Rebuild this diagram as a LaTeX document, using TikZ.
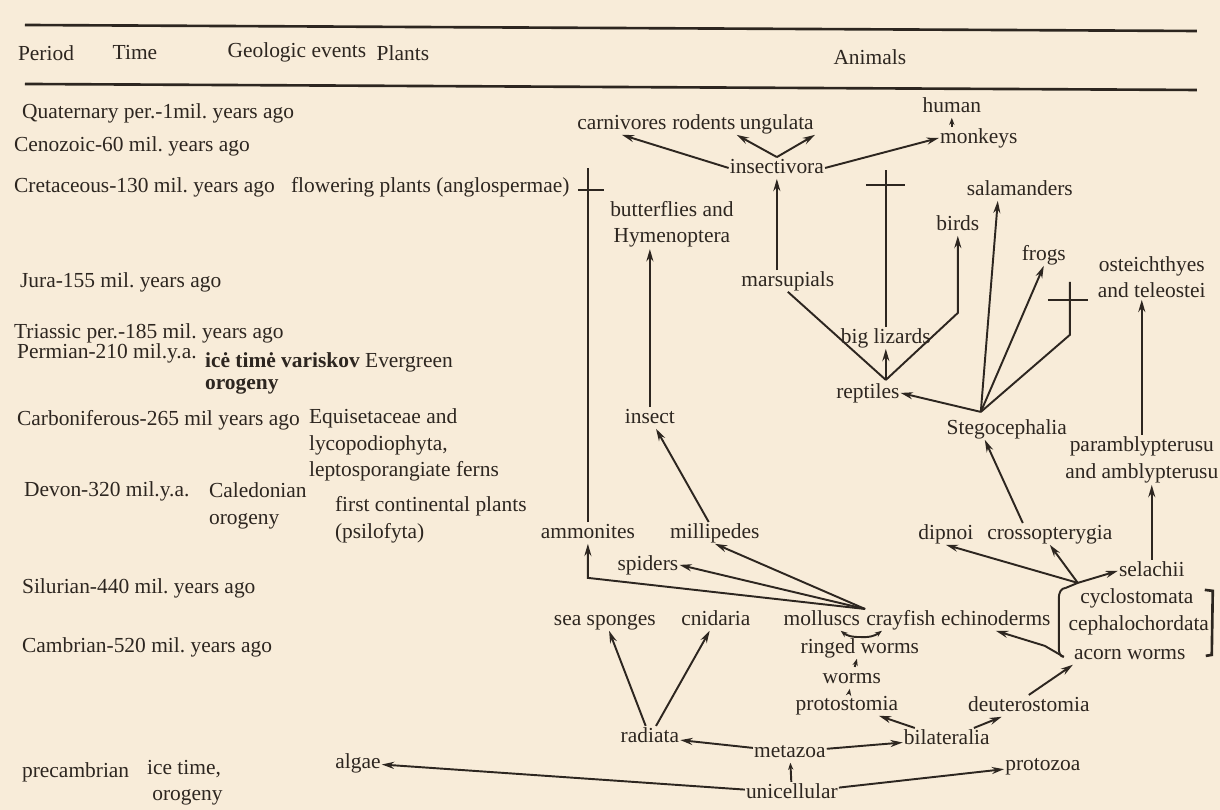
\documentclass[tikz,border=0pt]{standalone}
\usepackage{fontspec}
\setmainfont{Liberation Serif}
\usetikzlibrary{arrows.meta,calc}
\definecolor{paper}{RGB}{248,236,217}
\definecolor{ink}{RGB}{45,38,32}
\frenchspacing
\begin{document}
\begin{tikzpicture}[
    x=0.02cm, y=-0.02cm,
    every node/.style={inner sep=1pt, text=ink, font=\fontsize{12.2}{15}\selectfont, align=center},
    era/.style={anchor=west, align=left},
    taxon/.style={text height=8.5pt, text depth=2.5pt, inner sep=0.5pt},
    rule/.style={draw=ink, line width=1.5pt},
    link/.style={draw=ink, line width=1.1pt},
    arrow/.style={link, -{Stealth[length=7pt,width=4pt]}},
    tiny arrow/.style={link, -{Stealth[length=4pt,width=3pt]}}
]

\fill[paper] (0,0) rectangle (1220,810);

\draw[rule] (25,25) -- (1197,31);
\draw[rule] (25,84) -- (1197,90);

\node (period) at (46,53) {Period};
\node (time) at (135,53) {Time};
\node (geo) at (297,52) {Geologic events};
\node (plants) at (403,53) {Plants};
\node (animals) at (870,57) {Animals};

\node (quat) [era] at (20,113) {Quaternary per.-1mil. years ago};
\node (ceno) [era] at (12,146) {Cenozoic-60 mil. years ago};
\node (creta) [era] at (12,187) {Cretaceous-130 mil. years ago};
\node (jura) [era] at (18,282) {Jura-155 mil. years ago};
\node (trias) [era] at (12,333) {Triassic per.-185 mil. years ago};
\node (perm) [era] at (15,353) {Permian-210 mil.y.a.};
\node (carb) [era] at (15,420) {Carboniferous-265 mil years ago};
\node (devon) [era] at (22,491) {Devon-320 mil.y.a.};
\node (silur) [era] at (20,588) {Silurian-440 mil. years ago};
\node (cambr) [era] at (20,648) {Cambrian-520 mil. years ago};
\node (precam) [era] at (20,772) {precambrian};

\node (icetime) [era] at (203,362) {\textbf{icė timė variskov} Evergreen};
\node (oro1) [era] at (203,386) {\textbf{orogeny}};
\node (caled) [era] at (207,506) {Caledonian\\orogeny};
\node (icepre) [era] at (145,783) {ice time,\\\hspace*{3pt}orogeny};

\node (flower) [era] at (289,187) {flowering plants (anglospermae)};
\node (equis) [era] at (307,445) {Equisetaceae and\\lycopodiophyta,\\leptosporangiate ferns};
\node (firstpl) [era] at (333,520) {first continental plants\\(psilofyta)};

\node (carniv) [taxon] at (622,124) {carnivores};
\node (rodents) [taxon] at (704,124) {rodents};
\node (ungul) [taxon] at (777,124) {ungulata};
\node (human) [taxon] at (952,107) {human};
\node (monkeys) [taxon] at (979,138) {monkeys};
\node (insectiv) [taxon] at (777,168) {insectivora};
\node (salam) [taxon] at (1020,190) {salamanders};
\node (butter) at (672,224) {butterflies and\\Hymenoptera};
\node (birds) [taxon] at (958,225) {birds};
\node (frogs) [taxon] at (1044,255) {frogs};
\node (osteich) at (1152,277) {osteichthyes\\and teleostei};
\node (marsup) [taxon] at (788,281) {marsupials};
\node (lizards) [taxon] at (886,338) {big lizards};
\node (reptiles) [taxon] at (868,393) {reptiles};
\node (stego) [taxon] at (1007,429) {Stegocephalia};
\node (insect) [taxon] at (650,418) {insect};
\node (param) at (1142,460) {paramblypterusu\\and amblypterusu};
\node (ammon) [taxon] at (588,533) {ammonites};
\node (millip) [taxon] at (715,533) {millipedes};
\node (dipnoi) [taxon] at (946,534) {dipnoi};
\node (crosso) [taxon] at (1050,534) {crossopterygia};
\node (spiders) [taxon] at (648,565) {spiders};
\node (selachii) [taxon] at (1152,571) {selachii};
\node (spong) [taxon] at (605,620) {sea sponges};
\node (cnid) [taxon] at (716,620) {cnidaria};
\node (mollusc) [taxon] at (822,620) {molluscs};
\node (crayf) [taxon] at (901,620) {crayfish};
\node (echino) [taxon] at (996,620) {echinoderms};
\node (cyclo) [taxon] at (1137,598) {cyclostomata};
\node (cephal) [taxon] at (1139,625) {cephalochordata};
\node (acorn) [taxon] at (1130,654) {acorn worms};
\node (ringed) [taxon] at (860,648) {ringed worms};
\node (worms) [taxon] at (852,678) {worms};
\node (proto) [taxon] at (847,705) {protostomia};
\node (deutero) [taxon] at (1029,706) {deuterostomia};
\node (radiata) [taxon] at (650,737) {radiata};
\node (bilat) [taxon] at (947,739) {bilateralia};
\node (metazoa) [taxon] at (790,752) {metazoa};
\node (protozoa) [taxon] at (1043,765) {protozoa};
\node (algae) [taxon] at (358,763) {algae};
\node (unicell) [taxon] at (792,793) {unicellular};

\coordinate (ammtop) at (588,168);
\coordinate (ammbend) at (588,578);
\coordinate (liztop) at (886,170);
\coordinate (rtop) at (886,380);
\coordinate (birdbend) at (958,313);
\coordinate (stop) at (981,412);
\coordinate (ostbend) at (1070,335);
\coordinate (osttop) at (1070,282);
\coordinate (fapex) at (1078,583);
\coordinate (bracetop) at (1066,588);
\coordinate (bracebot) at (1064,657);
\coordinate (wiggle) at (1045,646);

\draw[arrow] (unicell) -- (algae);
\draw[arrow] (unicell) -- (protozoa);
\draw[tiny arrow] (unicell) -- (metazoa);
\draw[arrow] (metazoa) -- (radiata);
\draw[arrow] (metazoa) -- (bilat);
\draw[arrow] (radiata) -- (spong);
\draw[arrow] (radiata) -- (cnid);
\draw[arrow] (bilat) -- (proto);
\draw[arrow] (bilat) -- (deutero);
\draw[arrow] (deutero.north) -- (acorn.south west);
\draw[tiny arrow] (proto) -- (worms);
\draw[tiny arrow] (worms) -- (ringed);
\draw[tiny arrow] (ringed.north) to[bend left=20] (mollusc.-30);
\draw[tiny arrow] (ringed.north) to[bend right=20] (crayf.-150);

\draw[arrow] (crayf.north west) -- (spiders.east);
\draw[arrow] (crayf.north west) -- (millip.south);
\draw[arrow] (crayf.north west) -- (ammbend) -- (ammon.south);
\draw[link] (ammon.north) -- (ammtop);
\draw[link] (578,190) -- (604,190);
\draw[arrow] (millip) -- (insect);
\draw[arrow] (insect.north) -- (insect.north |- butter.south);

\draw[link] (bracetop) to[out=180,in=90] (1059,598) -- (1059,648) to[out=-90,in=180] (bracebot);
\draw[link, line width=1.5pt] (1205,590) -- (1213,591) -- (1212,655) -- (1206,656);
\draw[arrow] (bracebot) -- (wiggle) -- (echino.south);
\draw[link] (bracetop) -- (fapex);
\draw[arrow] (fapex) -- (dipnoi.south);
\draw[arrow] (fapex) -- (crosso.south);
\draw[arrow] (fapex) -- (selachii.west);
\draw[arrow] (selachii.north) -- (selachii.north |- param.south);
\draw[arrow] (param.north) -- (param.north |- osteich.south);
\draw[arrow] ($(crosso.north)+(-27,0)$) -- ($(stego.south)+(-22,0)$);

\draw[arrow] (stop) -- (reptiles.east);
\draw[arrow] (stop) -- ($(salam.south)+(-22,0)$);
\draw[arrow] (stop) -- (frogs.south);
\draw[link] (stop) -- (ostbend) -- (osttop);
\draw[link] (1048,300) -- (1088,300);

\draw[link] (rtop) -- (marsup.south);
\draw[arrow] (rtop) -- (lizards.south);
\draw[arrow] (rtop) -- (birdbend) -- (birds.south);
\draw[link] (lizards.north) -- (liztop);
\draw[link] (866,185) -- (905,185);

\draw[arrow] (marsup.north -| insectiv.south) -- (insectiv.south);
\draw[arrow] (insectiv.west) -- (carniv.south);
\draw[arrow] (insectiv.north) -- (rodents.south east);
\draw[arrow] (insectiv.north) -- (ungul.south east);
\draw[arrow] (insectiv.east) -- (monkeys.west);
\draw[tiny arrow] (human.south |- monkeys.north) -- (human.south);

\end{tikzpicture}
\end{document}
